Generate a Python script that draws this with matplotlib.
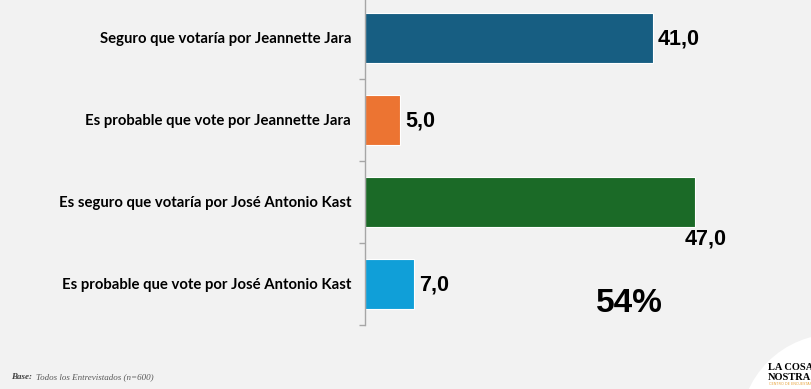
import numpy as np
import matplotlib.pyplot as plt
from matplotlib.patches import Circle

# Datos del gráfico
categorias = ['Seguro que votaría por Jeannette Jara',
              'Es probable que vote por Jeannette Jara',
              'Es seguro que votaría por José Antonio Kast',
              'Es probable que vote por José Antonio Kast']
valores = [41.0, 5.0, 47.0, 7.0]
etiquetas = ['41,0', '5,0', '47,0', '7,0']
colores = ['#175e82', '#ec7432', '#1b6a27', '#109fd8']
total_kast = '54%'

fondo = '#f2f2f2'

fig = plt.figure(figsize=(8.12, 3.89), dpi=100, facecolor=fondo)
ax = fig.add_axes([365/812, 64/389, 421/812, 328/389], facecolor=fondo)

y = np.arange(len(categorias))
ax.barh(y, valores, height=0.6, color=colores, edgecolor='white', linewidth=0.8)

ax.set_xlim(0, 60)
ax.set_ylim(3.5, -0.5)

# Etiquetas de valor (la de 47,0 va debajo de la barra)
for i, (v, t) in enumerate(zip(valores, etiquetas)):
    if i == 2:
        ax.annotate(t, (v, i), xytext=(-7, -27), textcoords='offset points',
                    ha='left', va='center', fontsize=15.5, fontweight='bold',
                    family=['Liberation Sans', 'DejaVu Sans'])
    else:
        ax.annotate(t, (v, i), xytext=(3.5, -0.5), textcoords='offset points',
                    ha='left', va='center', fontsize=15.5, fontweight='bold',
                    family=['Liberation Sans', 'DejaVu Sans'])

ax.set_yticks(y)
ax.set_yticklabels(categorias, fontsize=10.7, fontweight='bold',
                   family=['Lato', 'DejaVu Sans'])
ax.set_yticks(np.arange(-0.5, 4, 1), minor=True)
ax.tick_params(axis='y', which='major', length=0, pad=10)
ax.tick_params(axis='y', which='minor', length=4, color='#a6a6a6', width=1)
ax.set_xticks([])
for s in ['top', 'right', 'bottom']:
    ax.spines[s].set_visible(False)
ax.spines['left'].set_color('#a6a6a6')
ax.spines['left'].set_linewidth(1)

fig.text(629/812, 1 - 303/389, total_kast, ha='center', va='center',
         fontsize=24, fontweight='bold', family=['Liberation Sans', 'DejaVu Sans'])

# Pie de página
fig.text(11/812, 1 - 377/389, 'Base:', fontsize=6.5, fontweight='bold', style='italic',
         family='Liberation Serif', color='#404040', va='center')
fig.text(36/812, 1 - 377/389, 'Todos los Entrevistados (n=600)', fontsize=6.5,
         style='italic', family='Liberation Serif', color='#595959', va='center')

# Logo
circulo = Circle((835, -40), 95, transform=None, facecolor='white', edgecolor='none')
fig.patches.append(circulo)
fig.text(768/812, 1 - 368/389, 'LA COSA', fontsize=7.5, fontweight='bold',
         family='Liberation Serif', va='center')
fig.text(768/812, 1 - 377/389, 'NOSTRA', fontsize=7.5, fontweight='bold',
         family='Liberation Serif', va='center')
fig.text(769/812, 1 - 384/389, 'CENTRO DE ENCUESTAS', fontsize=2.5,
         family='DejaVu Sans', color='#e8a33a', va='center')

fig.savefig('out.png', dpi=100, facecolor=fondo)
